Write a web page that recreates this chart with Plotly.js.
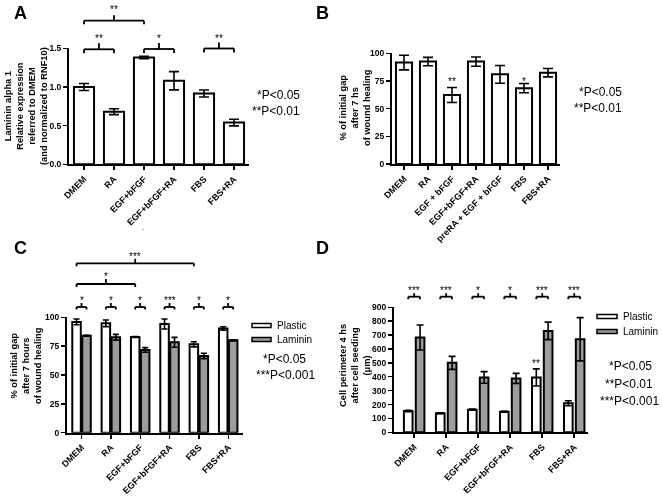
<!DOCTYPE html>
<html><head><meta charset="utf-8">
<script src="https://cdn.plot.ly/plotly-3.0.1.min.js"></script>
<style>html,body{margin:0;padding:0;background:#fff;}#chart{width:662px;height:497px;filter:grayscale(100%);}</style>
</head><body><div id="chart"></div>
<script>
// ---------- DATA ----------
const catsA = ['DMEM','RA','EGF+bFGF','EGF+bFGF+RA','FBS','FBS+RA'];
const valsA = [1.00, 0.68, 1.38, 1.08, 0.915, 0.54];
const errA  = [0.045, 0.038, 0.015, 0.118, 0.045, 0.043];

const catsB = ['DMEM','RA','EGF + bFGF','EGF+bFGF+RA','preRA + EGF + bFGF','FBS','FBS+RA'];
const valsB = [91.6, 92.5, 62.3, 92.5, 81, 68.5, 82.5];
const errB  = [6.6, 3.8, 6.8, 4.2, 8, 4.2, 3.8];
const sigB  = ['', '', '**', '', '', '*', ''];

const catsCD = ['DMEM','RA','EGF+bFGF','EGF+bFGF+RA','FBS','FBS+RA'];
const plasticC    = [96.0, 94.8, 82.9, 94.2, 76.6, 90.3];
const errPlasticC = [2.5, 2.9, 0.4, 4.3, 2.2, 1.5];
const lamininC    = [84.1, 82.7, 71.7, 78.3, 66.5, 80.1];
const errLamininC = [0.4, 2.5, 2.0, 4.3, 2.3, 0.5];
const sigPairC    = ['*', '*', '*', '***', '*', '*'];

const plasticD    = [154, 137, 163, 148, 395, 209];
const errPlasticD = [5, 3, 4, 3, 62, 18];
const lamininD    = [683, 500, 395, 388, 730, 670];
const errLamininD = [90, 47, 42, 36, 63, 156];
const sigPairD    = ['***', '***', '*', '*', '***', '***'];
const sigPlasticD = ['', '', '', '', '**', ''];

const seriesNames = ['Plastic', 'Laminin'];

// ---------- HELPERS ----------
const W = 662, H = 497;
const px = p => p / W;
const py = p => 1 - p / H;
const FONT = 'Liberation Sans, Arial, Helvetica, sans-serif';
const GRAY = '#9c9c9c';

function xAx(l, r, range) {
  return {domain: [px(l), px(r)], range: range, type: 'category', showline: true, linecolor: 'black',
    linewidth: 2, ticks: 'outside', ticklen: 4, tickwidth: 1.5, tickcolor: 'black', showgrid: false,
    zeroline: false, tickangle: -45, fixedrange: true,
    tickfont: {family: FONT, size: 9, weight: 'bold', color: 'black'}};
}
function yAx(top, bot, range, dtick, fmt) {
  return {domain: [py(bot), py(top)], range: range, dtick: dtick, tick0: 0, tickformat: fmt,
    showline: true, linecolor: 'black', linewidth: 2, ticks: 'outside', ticklen: 4, tickwidth: 1.5,
    tickcolor: 'black', showgrid: false, zeroline: false, fixedrange: true,
    tickfont: {family: FONT, size: 8.5, weight: 'bold', color: 'black'}};
}

const barLine = {color: 'black', width: 2};
function eb(arr, w) { return {type: 'data', array: arr, visible: true, color: 'black', thickness: 1.6, width: w}; }

const traces = [
  {type: 'bar', x: catsA, y: valsA, width: 0.67, marker: {color: 'white', line: barLine},
   error_y: eb(errA, 5), xaxis: 'x', yaxis: 'y', showlegend: false, hoverinfo: 'none'},
  {type: 'bar', x: catsB, y: valsB, width: 0.67, marker: {color: 'white', line: barLine},
   error_y: eb(errB, 5), xaxis: 'x2', yaxis: 'y2', showlegend: false, hoverinfo: 'none'},
  {type: 'bar', name: seriesNames[0], x: catsCD, y: plasticC, width: 0.29, offset: -0.32,
   marker: {color: 'white', line: barLine}, error_y: eb(errPlasticC, 3), xaxis: 'x3', yaxis: 'y3', showlegend: false, hoverinfo: 'none'},
  {type: 'bar', name: seriesNames[1], x: catsCD, y: lamininC, width: 0.29, offset: 0.02,
   marker: {color: GRAY, line: barLine}, error_y: eb(errLamininC, 3), xaxis: 'x3', yaxis: 'y3', showlegend: false, hoverinfo: 'none'},
  {type: 'bar', name: seriesNames[0], x: catsCD, y: plasticD, width: 0.27, offset: -0.32,
   marker: {color: 'white', line: barLine}, error_y: eb(errPlasticD, 3.5), xaxis: 'x4', yaxis: 'y4', showlegend: false, hoverinfo: 'none'},
  {type: 'bar', name: seriesNames[1], x: catsCD, y: lamininD, width: 0.27, offset: 0.05,
   marker: {color: GRAY, line: barLine}, error_y: eb(errLamininD, 3.5), xaxis: 'x4', yaxis: 'y4', showlegend: false, hoverinfo: 'none'}
];

const shapes = [];
const annotations = [];

function txt(x, y, text, opts) {
  annotations.push(Object.assign({x: x, y: y, xref: 'paper', yref: 'paper', text: text, showarrow: false,
    xanchor: 'center', yanchor: 'middle', font: {family: FONT, size: 12, color: 'black'}}, opts || {}));
}
function line(xref, x0, y0, x1, y1) {
  shapes.push({type: 'line', xref: xref, yref: 'paper', x0: x0, x1: x1, y0: py(y0), y1: py(y1),
    line: {color: 'black', width: 1.8}});
}
// bracket: horizontal at yh (px), legs down, center tick up, label above
function bracket(xref, a, b, yh, leg, tick, label, ly) {
  line(xref, a, yh + leg, a, yh);
  line(xref, a, yh, b, yh);
  line(xref, b, yh, b, yh + leg);
  line(xref, (a + b) / 2, yh, (a + b) / 2, yh - tick);
  annotations.push({x: (a + b) / 2, y: py(ly), xref: xref, yref: 'paper', text: label, showarrow: false,
    xanchor: 'center', yanchor: 'middle', font: {family: FONT, size: 10, color: 'black'}});
}

// Panel letters
txt(px(12), py(13), 'A', {xanchor: 'left', font: {family: FONT, size: 18, weight: 'bold', color: 'black'}});
txt(px(314), py(13), 'B', {xanchor: 'left', font: {family: FONT, size: 18, weight: 'bold', color: 'black'}});
txt(px(12), py(247.5), 'C', {xanchor: 'left', font: {family: FONT, size: 18, weight: 'bold', color: 'black'}});
txt(px(314), py(247.5), 'D', {xanchor: 'left', font: {family: FONT, size: 18, weight: 'bold', color: 'black'}});

// Y titles
const tfont = {family: FONT, size: 9.3, weight: 'bold', color: 'black'};
txt(px(26), py(106), 'Laminin alpha 1<br>Relative expression<br>referred to DMEM<br>(and normalized to RNF10)', {textangle: -90, font: tfont});
txt(px(355), py(108), '% of initial gap<br>after 7 hs<br>of wound healing', {textangle: -90, font: tfont});
txt(px(26), py(366), '% of initial gap<br>after 7 hours<br>of wound healing', {textangle: -90, font: tfont});
txt(px(355), py(366), 'Cell perimeter 4 hs<br>after cell seeding<br>(μm)', {textangle: -90, font: tfont});

// P-value keys
txt(px(302), py(95), '*P<0.05', {xanchor: 'right'});
txt(px(302), py(111.5), '**P<0.01', {xanchor: 'right'});
txt(px(624), py(92), '*P<0.05', {xanchor: 'right'});
txt(px(624), py(108.5), '**P<0.01', {xanchor: 'right'});
txt(px(284), py(358.5), '*P<0.05');
txt(px(285), py(374.5), '***P<0.001');
txt(px(630), py(366), '*P<0.05');
txt(px(629), py(383.5), '**P<0.01');
txt(px(629), py(401), '***P<0.001');

// Legends (C and D)
function legendItem(x0, x1, yc, fill, label) {
  shapes.push({type: 'rect', xref: 'paper', yref: 'paper', x0: px(x0), x1: px(x1), y0: py(yc + 2), y1: py(yc - 2),
    fillcolor: fill, line: {color: 'black', width: 1.5}});
  txt(px(x1 + 4), py(yc), label, {xanchor: 'left', font: {family: FONT, size: 10, color: 'black'}});
}
legendItem(252, 271, 325.5, 'white', seriesNames[0]);
legendItem(252, 271, 339.5, GRAY, seriesNames[1]);
legendItem(597, 617, 316.5, 'white', seriesNames[0]);
legendItem(597, 617, 331.5, GRAY, seriesNames[1]);

// Panel A brackets
bracket('x', 0, 2, 20.7, 3.5, 5.5, '**', 9);
bracket('x', 0, 1, 49.3, 4, 6, '**', 38.5);
bracket('x', 2, 3, 49.0, 4, 6, '*', 38);
bracket('x', 4, 5, 48.5, 4, 6, '**', 38);

// Panel B marks
sigB.forEach((s, i) => { if (s) annotations.push({x: catsB[i], y: py(82), xref: 'x2', yref: 'paper', text: s,
  showarrow: false, xanchor: 'center', yanchor: 'middle', font: {family: FONT, size: 10, color: 'black'}}); });

// Panel C brackets
const pcC = -0.175, lcC = 0.165;
sigPairC.forEach((s, i) => bracket('x3', i + pcC, i + lcC, 307, 2.5, 4, s, 300));
bracket('x3', pcC, 2 + pcC, 284, 3, 5, '*', 276);
bracket('x3', pcC, 4 + pcC, 263.3, 3, 4.5, '***', 256);

// Panel D brackets
const pcD = -0.185, lcD = 0.185;
sigPairD.forEach((s, i) => bracket('x4', i + pcD, i + lcD, 296.7, 2.5, 3.5, s, 290));
sigPlasticD.forEach((s, i) => { if (s) annotations.push({x: i + pcD, y: py(363), xref: 'x4', yref: 'paper', text: s,
  showarrow: false, xanchor: 'center', yanchor: 'middle', font: {family: FONT, size: 10, color: 'black'}}); });

// stray dot in panel A
txt(px(143), py(227), '.', {font: {family: FONT, size: 8, color: 'black'}});

const layout = {
  width: W, height: H, margin: {l: 0, r: 0, t: 0, b: 0},
  paper_bgcolor: 'white', plot_bgcolor: 'rgba(0,0,0,0)',
  font: {family: FONT, color: 'black'}, showlegend: false, barmode: 'overlay',
  xaxis: Object.assign(xAx(69, 249, [-0.5, 5.5]), {anchor: 'y'}),
  yaxis: Object.assign(yAx(48.3, 164.3, [0, 1.5], 0.5, '.1f'), {anchor: 'x'}),
  xaxis2: Object.assign(xAx(392, 560, [-0.5, 6.5]), {anchor: 'y2'}),
  yaxis2: Object.assign(yAx(53.3, 164, [0, 100], 25, ''), {anchor: 'x2'}),
  xaxis3: Object.assign(xAx(67, 243, [-0.5, 5.5]), {anchor: 'y3'}),
  yaxis3: Object.assign(yAx(317.3, 432.7, [0, 100], 25, ''), {anchor: 'x3'}),
  xaxis4: Object.assign(xAx(394, 588, [-0.63, 5.43]), {anchor: 'y4'}),
  yaxis4: Object.assign(yAx(307.3, 432.3, [0, 900], 100, ''), {anchor: 'x4'}),
  shapes: shapes, annotations: annotations
};

Plotly.newPlot('chart', traces, layout, {staticPlot: true, displayModeBar: false});
</script></body></html>
